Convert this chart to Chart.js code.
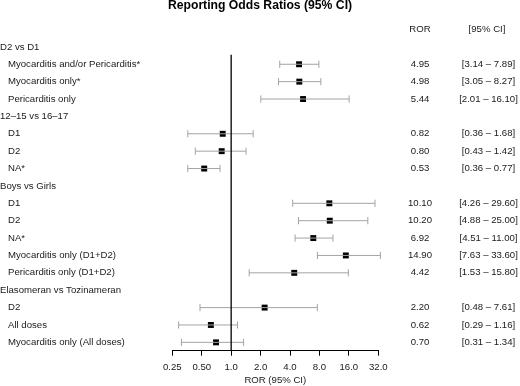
<!DOCTYPE html>
<html>
<head>
<meta charset="utf-8">
<script src="https://cdn.jsdelivr.net/npm/chart.js@4/dist/chart.umd.min.js"></script>
<style>
  html, body { margin: 0; padding: 0; background: #fff; }
  #wrap { width: 520px; height: 386px; position: relative; }
</style>
</head>
<body>
<div id="wrap"><canvas id="forest"></canvas></div>
<script>
// ─── data ─────────────────────────────────────────────
const rowLabels = [
  'D2 vs D1',
  'Myocarditis and/or Pericarditis*',
  'Myocarditis only*',
  'Pericarditis only',
  '12\u201315 vs 16\u201317',
  'D1',
  'D2',
  'NA*',
  'Boys vs Girls',
  'D1',
  'D2',
  'NA*',
  'Myocarditis only (D1+D2)',
  'Pericarditis only (D1+D2)',
  'Elasomeran vs Tozinameran',
  'D2',
  'All doses',
  'Myocarditis only (All doses)'
];
const headerRows = [0, 4, 8, 14];
const rorValues = [null, 4.95, 4.98, 5.44, null, 0.82, 0.80, 0.53, null, 10.10, 10.20, 6.92, 14.90, 4.42, null, 2.20, 0.62, 0.70];
const ciLower   = [null, 3.14, 3.05, 2.01, null, 0.36, 0.43, 0.36, null, 4.26, 4.88, 4.51, 7.63, 1.53, null, 0.48, 0.29, 0.31];
const ciUpper   = [null, 7.89, 8.27, 16.10, null, 1.68, 1.42, 0.77, null, 29.60, 25.00, 11.00, 33.60, 15.80, null, 7.61, 1.16, 1.34];
const tickValues = [0.25, 0.5, 1, 2, 4, 8, 16, 32];
const tickLabels = ['0.25', '0.50', '1.0', '2.0', '4.0', '8.0', '16.0', '32.0'];

const FONT = '"Liberation Sans", Arial, Helvetica, sans-serif';
const Y_MIN = -1, Y_MAX = 17.48;

// CI whiskers: one line dataset, broken by null points
const ciData = [];
rorValues.forEach((v, i) => {
  if (v == null) return;
  ciData.push({ x: ciLower[i], y: i }, { x: ciUpper[i], y: i }, { x: null, y: null });
});
const pointData = rorValues.map((v, i) => v == null ? null : { x: v, y: i }).filter(Boolean);

// text columns (labels, ROR, CI)
const textColumns = {
  id: 'textColumns',
  afterDraw(chart) {
    const ctx = chart.ctx, y = chart.scales.y;
    ctx.save();
    ctx.font = '9.6px ' + FONT;
    ctx.fillStyle = '#1a1a1a';
    ctx.textBaseline = 'middle';
    rowLabels.forEach((lab, i) => {
      const py = y.getPixelForValue(i);
      ctx.textAlign = 'left';
      ctx.fillText(lab, headerRows.includes(i) ? 0 : 8, py);
      if (rorValues[i] != null) {
        ctx.textAlign = 'center';
        ctx.fillText(rorValues[i].toFixed(2), 420, py);
        ctx.fillText('[' + ciLower[i].toFixed(2) + ' \u2013 ' + ciUpper[i].toFixed(2) + ']', 488.5, py);
      }
    });
    const hy = y.getPixelForValue(-1);
    ctx.textAlign = 'center';
    ctx.fillText('ROR', 420, hy);
    ctx.fillText('[95% CI]', 487, hy);
    ctx.restore();
  }
};

// empty side axes reserve the margins, so the title stays centred on the page
const spacer = w => ({
  display: true,
  ticks: { display: false },
  grid: { display: false },
  border: { display: false },
  afterFit: s => { s.width = w; }
});

new Chart(document.getElementById('forest'), {
  type: 'scatter',
  data: {
    datasets: [
      {
        // reference line at ROR = 1
        data: [{ x: 1, y: 0.45 }, { x: 1, y: Y_MAX }],
        showLine: true,
        borderColor: '#000',
        borderWidth: 1.3,
        pointRadius: 0,
        clip: false
      },
      {
        data: ciData,
        showLine: true,
        spanGaps: false,
        borderColor: '#a3a3a3',
        borderWidth: 1,
        pointStyle: 'line',
        pointRotation: 90,
        pointRadius: 3.6,
        pointBorderColor: '#a3a3a3',
        pointBorderWidth: 1,
        clip: false
      },
      {
        data: pointData,
        pointStyle: 'rect',
        pointRadius: 4.2,
        pointBackgroundColor: '#000',
        pointBorderWidth: 0,
        clip: false
      }
    ]
  },
  options: {
    responsive: true,
    maintainAspectRatio: false,
    animation: false,
    layout: { padding: 0 },
    plugins: {
      legend: { display: false },
      tooltip: { enabled: false },
      title: {
        display: true,
        text: 'Reporting Odds Ratios (95% CI)',
        color: '#000',
        font: { family: FONT, size: 12.2, weight: 'bold', lineHeight: 1 },
        padding: { top: 0, bottom: 17.3 }
      }
    },
    scales: {
      x: {
        type: 'logarithmic',
        min: 0.25,
        max: 32,
        afterBuildTicks: axis => { axis.ticks = tickValues.map(v => ({ value: v })); },
        ticks: {
          callback: (v, i) => tickLabels[i],
          color: '#1a1a1a',
          font: { family: FONT, size: 9.6, lineHeight: 1 },
          padding: 6.5,
          maxRotation: 0,
          autoSkip: false
        },
        grid: { display: true, drawOnChartArea: false, drawTicks: true, tickLength: 5, color: '#000', tickColor: '#000' },
        border: { display: true, color: '#000', width: 1 },
        title: {
          display: true,
          text: 'ROR (95% CI)',
          color: '#1a1a1a',
          font: { family: FONT, size: 9.6, lineHeight: 1 },
          padding: { top: -2.9, bottom: 1 }
        }
      },
      y: Object.assign(spacer(172.3), {
        reverse: true,
        min: Y_MIN,
        max: Y_MAX
      }),
      yRight: Object.assign(spacer(141.7), { position: 'right' })
    }
  },
  plugins: [textColumns]
});
</script>
</body>
</html>
